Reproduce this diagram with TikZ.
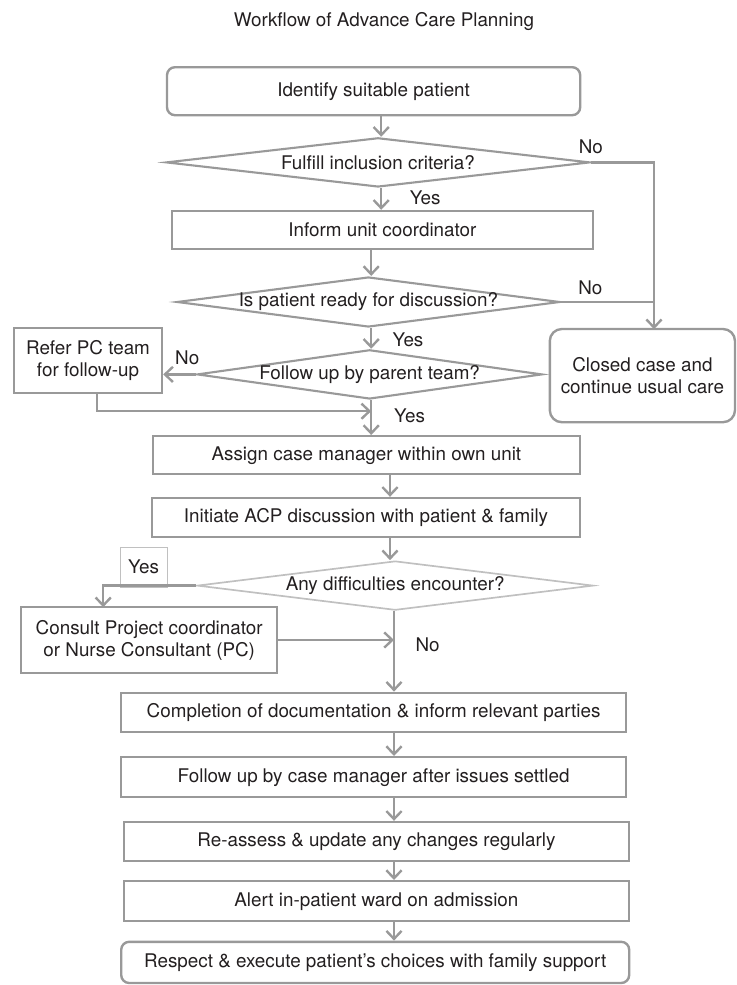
\documentclass[tikz,border=0pt]{standalone}
\usepackage{fontspec}
\setmainfont{TeX Gyre Heros}
\usepackage{tikz}
\usetikzlibrary{arrows.meta,positioning,calc,shapes.geometric}
\definecolor{flowgray}{RGB}{153,153,153}
\definecolor{palegray}{RGB}{192,192,192}
\definecolor{inkdark}{RGB}{35,31,32}

\begin{document}
\begin{tikzpicture}[>={Straight Barb[length=2mm,width=3.8mm]}, font=\fontsize{13.4}{15.6}\selectfont, line width=1.7pt,
  color=flowgray, text=inkdark,
  blk/.style={draw, inner sep=0pt, align=center},
  rblk/.style={blk, rounded corners=2mm},
  dec/.style={diamond, draw, line width=1.5pt, inner sep=0pt},
  lbl/.style={inner sep=0pt}]
\useasboundingbox (0,0) rectangle (18.425,-24.625);
%% title and upper part
\node[lbl] (title) at (9.60,-0.55) {Workflow of Advance Care Planning};
\node[rblk, minimum width=10.33cm, minimum height=1.20cm] (ident) at (9.34,-2.28) {Identify suitable patient};
\node[dec, minimum width=10.60cm, minimum height=1.23cm, label=center:{Fulfill inclusion criteria?}] (dfulfill) at (9.45,-4.06) {};
\node[blk, minimum width=10.53cm, minimum height=0.95cm] (inform) at (9.56,-5.75) {Inform unit coordinator};
\node[dec, minimum width=9.58cm, minimum height=1.25cm, label=center:{Is patient ready for discussion?}] (dready) at (9.21,-7.55) {};
\node[dec, minimum width=8.63cm, minimum height=1.23cm, label=center:{Follow up by parent team?}] (dparent) at (9.24,-9.36) {};
\node[blk, minimum width=3.70cm, minimum height=1.63cm] (refer) at (2.20,-9.01) {Refer PC team\\for follow-up};
\node[rblk, rounded corners=3mm, minimum width=4.63cm, minimum height=2.33cm] (closed) at (16.06,-9.39) {Closed case and\\continue usual care};
\node[blk, minimum width=10.68cm, minimum height=0.95cm] (assign) at (9.16,-11.38) {Assign case manager within own unit};
\node[blk, minimum width=10.70cm, minimum height=0.98cm] (initiate) at (9.15,-12.94) {Initiate ACP discussion with patient \& family};
\node[dec, draw=palegray, line width=1.2pt, minimum width=9.90cm, minimum height=1.23cm, label=center:{Any difficulties encounter?}] (dany) at (9.88,-14.64) {};
\node[blk, draw=palegray, line width=0.7pt, minimum width=1.18cm, minimum height=1.00cm] (yesbox) at (3.59,-14.18) {Yes};
\node[blk, minimum width=6.40cm, minimum height=1.65cm] (consult) at (3.73,-16.00) {Consult Project coordinator\\or Nurse Consultant (PC)};
%% lower part
\node[blk, minimum width=12.63cm, minimum height=0.98cm] (complete) at (9.34,-17.81) {Completion of documentation \& inform relevant parties};
\node[blk, minimum width=12.63cm, minimum height=1.00cm] (followup) at (9.34,-19.43) {Follow up by case manager after issues settled};
\node[blk, minimum width=12.63cm, minimum height=0.98cm] (reassess) at (9.41,-21.04) {Re-assess \& update any changes regularly};
\node[blk, minimum width=12.63cm, minimum height=1.00cm] (alert) at (9.41,-22.53) {Alert in-patient ward on admission};
\node[rblk, minimum width=12.70cm, minimum height=1.03cm] (respect) at (9.38,-24.06) {Respect \& execute patient's choices with family support};
%% branch labels
\node[lbl] (no1) at (14.77,-3.68) {No};
\node[lbl] (yes1) at (10.63,-4.95) {Yes};
\node[lbl] (no2) at (14.76,-7.20) {No};
\node[lbl] (yes2) at (10.20,-8.49) {Yes};
\node[lbl] (no3) at (4.68,-8.94) {No};
\node[lbl] (yes3) at (10.24,-10.40) {Yes};
\node[lbl] (no4) at (10.69,-16.11) {No};
%% columns and bends
\coordinate (colA) at (9.53,0);
\coordinate (colB) at (9.28,0);
\coordinate (colC) at (9.75,0);
\coordinate (colD) at (9.85,0);
\coordinate (njoin) at (16.35,-8.23);
\coordinate (rjoin) at (9.28,-10.28);
\coordinate (ytap) at (2.58,-15.18);
%% connectors
\draw[->] (ident.south -| colA) -- (dfulfill.north -| colA);
\draw[->] (dfulfill.south -| colA) -- (inform.north -| colA);
\draw[->] (dfulfill.east) -| (njoin);
\draw[->] (inform.south -| colB) -- (dready.north -| colB);
\draw (dready.east) -- (dready.east -| njoin);
\draw[->] (dready.south -| colB) -- (dparent.north -| colB);
\draw[->] (dparent.west) -- (dparent.west -| refer.east);
\draw[->] ($(refer.south)+(0.23,0)$) |- (rjoin);
\draw[->] (dparent.south -| colB) -- (assign.north -| colB);
\draw[->] (assign.south -| colC) -- (initiate.north -| colC);
\draw[->] (initiate.south -| colC) -- (dany.north -| colC);
\draw[->] (dany.west) -| (ytap);
\draw[->] (consult.east) -- (consult.east -| colD);
\draw[->] (dany.south -| colD) -- (complete.north -| colD);
\draw[->] (complete.south -| colD) -- (followup.north -| colD);
\draw[->] (followup.south -| colD) -- (reassess.north -| colD);
\draw[->] (reassess.south -| colD) -- (alert.north -| colD);
\draw[->] (alert.south -| colD) -- (respect.north -| colD);
\end{tikzpicture}
\end{document}
